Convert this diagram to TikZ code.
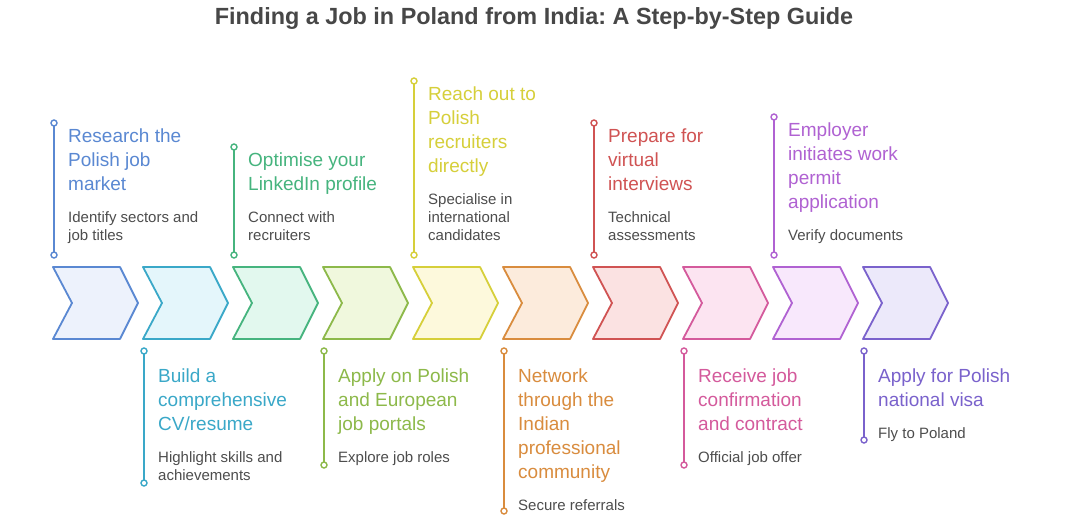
\documentclass[tikz,border=0pt]{standalone}
\usepackage{fontspec}
\setmainfont{Liberation Sans}
\usetikzlibrary{positioning}
\frenchspacing

\definecolor{titlegray}{HTML}{474747}
\definecolor{desctext}{HTML}{4D4D4D}
\definecolor{c1}{HTML}{5A88D2}\definecolor{f1}{HTML}{EDF2FC}
\definecolor{c2}{HTML}{3AA8C8}\definecolor{f2}{HTML}{E4F6FB}
\definecolor{c3}{HTML}{46B47E}\definecolor{f3}{HTML}{E2F8EE}
\definecolor{c4}{HTML}{8DB94A}\definecolor{f4}{HTML}{F0F8DD}
\definecolor{c5}{HTML}{D6CF3A}\definecolor{f5}{HTML}{FDF9DC}
\definecolor{c6}{HTML}{D98C3E}\definecolor{f6}{HTML}{FCEBDC}
\definecolor{c7}{HTML}{D05353}\definecolor{f7}{HTML}{FBE2E2}
\definecolor{c8}{HTML}{D45A9C}\definecolor{f8}{HTML}{FCE4F1}
\definecolor{c9}{HTML}{B062D2}\definecolor{f9}{HTML}{F8E8FC}
\definecolor{c10}{HTML}{7A62CC}\definecolor{f10}{HTML}{ECE9FA}

\newcommand\titlefont{\fontsize{23.4}{28}\bfseries\selectfont}
\newcommand\headfont{\fontsize{19}{24}\selectfont}
\newcommand\descfont{\fontsize{15}{18}\selectfont\color{desctext}}

\tikzset{
  chevron/.style={line width=1.8pt, line join=round},
  stem/.style={line width=2pt},
  knob/.style={line width=1.4pt, fill=white},
  steplabel/.style={inner sep=0pt, text width=200pt, align=flush left, anchor=base west, font=\headfont},
}

\begin{document}
\begin{tikzpicture}[x=1pt,y=-1pt]
	\useasboundingbox[fill=white] (0,0) rectangle (1068,529);
	\node[font=\titlefont, text=titlegray] (title) at (534,19) {Finding a Job in Poland from India: A Step-by-Step Guide};

	% les dix chevrons
	\foreach \i in {1,...,10}{
		\pgfmathsetmacro\xo{53+90*(\i-1)}
		\draw[chevron, draw=c\i, fill=f\i] (\xo,267) -- ++(67,0) -- ++(18,36) -- ++(-18,36) -- ++(-67,0) -- ++(19,-36) -- cycle;}

	% étapes du haut
	\coordinate (top1) at (54,123);  \coordinate (foot1) at (54,255);
	\coordinate (top3) at (234,147); \coordinate (foot3) at (234,255);
	\coordinate (top5) at (414,81);  \coordinate (foot5) at (414,255);
	\coordinate (top7) at (594,123); \coordinate (foot7) at (594,255);
	\coordinate (top9) at (774,117); \coordinate (foot9) at (774,255);
	% étapes du bas
	\coordinate (top2) at (144,351);  \coordinate (foot2) at (144,483);
	\coordinate (top4) at (324,351);  \coordinate (foot4) at (324,465);
	\coordinate (top6) at (504,351);  \coordinate (foot6) at (504,511);
	\coordinate (top8) at (684,351);  \coordinate (foot8) at (684,465);
	\coordinate (top10) at (864,351); \coordinate (foot10) at (864,440);

	\foreach \i in {1,...,10}{
		\draw[stem, draw=c\i] (top\i) -- (foot\i);
		\draw[knob, draw=c\i] (top\i) circle[radius=3pt];
		\draw[knob, draw=c\i] (foot\i) circle[radius=3pt];}

	\node[steplabel, text=c1] (t1) at (68,143) {Research the\\Polish job\\market\\[14pt]\descfont Identify sectors and\\job titles\par};
	\node[steplabel, text=c2] (t2) at (158,382) {Build a\\comprehensive\\CV/resume\\[14pt]\descfont Highlight skills and\\achievements\par};
	\node[steplabel, text=c3] (t3) at (248,167) {Optimise your\\LinkedIn profile\\[14pt]\descfont Connect with\\recruiters\par};
	\node[steplabel, text=c4] (t4) at (338,382) {Apply on Polish\\and European\\job portals\\[14pt]\descfont Explore job roles\par};
	\node[steplabel, text=c5] (t5) at (428,101) {Reach out to\\Polish\\recruiters\\directly\\[14pt]\descfont Specialise in\\international\\candidates\par};
	\node[steplabel, text=c6] (t6) at (518,382) {Network\\through the\\Indian\\professional\\community\\[14pt]\descfont Secure referrals\par};
	\node[steplabel, text=c7] (t7) at (608,143) {Prepare for\\virtual\\interviews\\[14pt]\descfont Technical\\assessments\par};
	\node[steplabel, text=c8] (t8) at (698,382) {Receive job\\confirmation\\and contract\\[14pt]\descfont Official job offer\par};
	\node[steplabel, text=c9] (t9) at (788,137) {Employer\\initiates work\\permit\\application\\[14pt]\descfont Verify documents\par};
	\node[steplabel, text=c10] (t10) at (878,382) {Apply for Polish\\national visa\\[14pt]\descfont Fly to Poland\par};
\end{tikzpicture}
\end{document}
